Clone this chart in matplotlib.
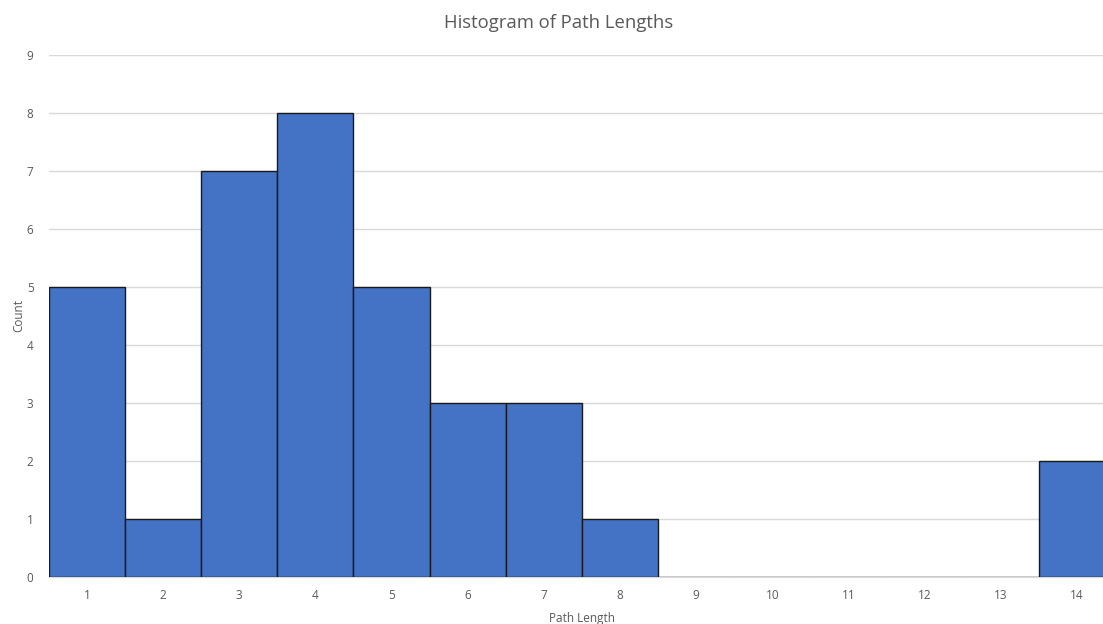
import matplotlib.pyplot as plt
import numpy as np

categories = ['1', '2', '3', '4', '5', '6', '7', '8', '9', '10', '11', '12', '13', '14']
counts = [5, 1, 7, 8, 5, 3, 3, 1, 0, 0, 0, 0, 0, 2]

plt.rcParams['font.family'] = ['Open Sans', 'DejaVu Sans']
txt = '#595959'

fig = plt.figure(figsize=(11.03, 6.24), dpi=100)
ax = fig.add_axes([0.0442, 0.0761, 0.9667, 0.8357])

x = np.arange(len(categories))
ax.bar(x, counts, width=1.0, color='#4472C4', edgecolor='#1a1a1a', linewidth=1.0, zorder=3)

ax.set_xlim(-0.5, len(categories) - 0.5)
ax.set_ylim(0, 9)
ax.set_yticks(range(0, 10))
ax.set_xticks(x)
ax.set_xticklabels(categories)
ax.yaxis.grid(True, color='#D9D9D9', linewidth=1, zorder=0)
ax.tick_params(axis='both', length=0, labelsize=8.5, labelcolor=txt)
ax.tick_params(axis='x', pad=9)
ax.tick_params(axis='y', pad=11)
for s in ['top', 'right', 'left']:
    ax.spines[s].set_visible(False)
ax.spines['bottom'].set_color('#D9D9D9')

fig.text(559 / 1103, 1 - 23 / 624, 'Histogram of Path Lengths', fontsize=13.3,
         color=txt, ha='center', va='center')
ax.set_xlabel('Path Length', fontsize=8.5, color=txt, labelpad=7)
ax.set_ylabel('Count', fontsize=8.5, color=txt, labelpad=1)

fig.savefig('out.png', dpi=100)
